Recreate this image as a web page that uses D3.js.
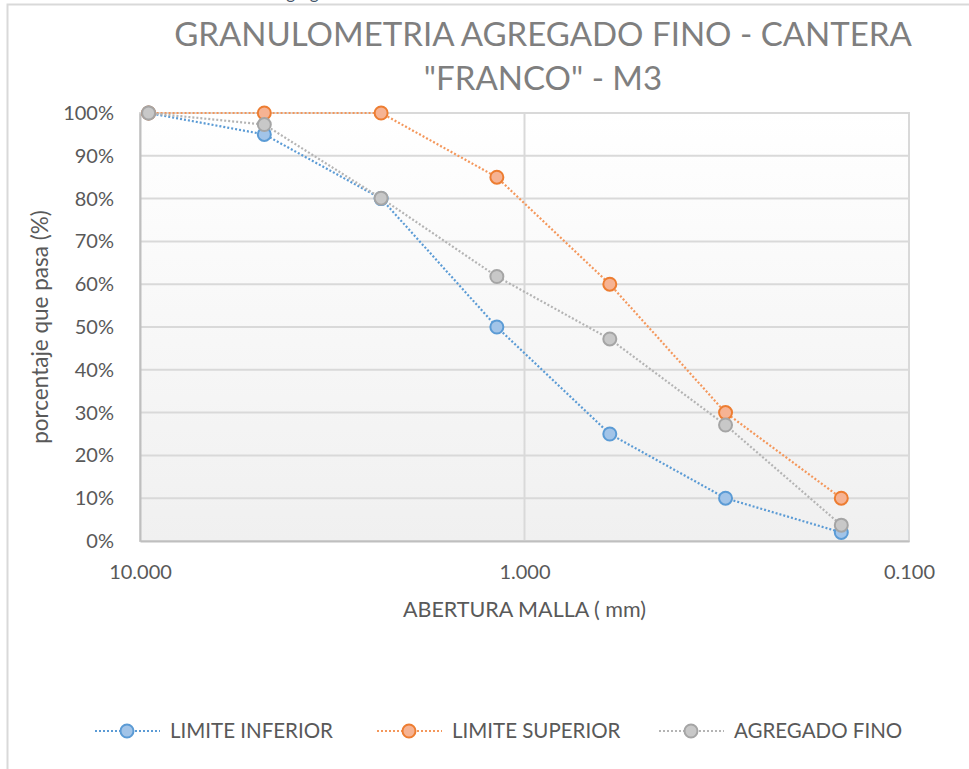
<!DOCTYPE html>
<html>
<head>
<meta charset="utf-8">
<script src="https://cdnjs.cloudflare.com/ajax/libs/d3/7.8.5/d3.min.js"></script>
<style>
  body { margin: 0; background: #fff; }
  text { font-family: Lato, "Open Sans", sans-serif; }
</style>
</head>
<body>
<div id="chart"></div>
<script>
// abertura de malla (mm) y porcentaje que pasa
var aberturas = [9.5, 4.75, 2.36, 1.18, 0.6, 0.3, 0.15];
var limiteInferior = [100, 95, 80, 50, 25, 10, 2];
var limiteSuperior = [100, 100, 100, 85, 60, 30, 10];
var agregadoFino = [100, 97.3, 80.1, 61.8, 47.2, 27.1, 3.7];
var xTicks = [10, 1, 0.1];
var yTicks = [0, 10, 20, 30, 40, 50, 60, 70, 80, 90, 100];
var nombres = ["LIMITE INFERIOR", "LIMITE SUPERIOR", "AGREGADO FINO"];

var series = [
  { nombre: nombres[0], valores: limiteInferior, linea: "#5B9BD5", borde: "#5B9BD5", relleno: "#A2C4E8" },
  { nombre: nombres[1], valores: limiteSuperior, linea: "#F4975B", borde: "#ED7D31", relleno: "#F6B393" },
  { nombre: nombres[2], valores: agregadoFino, linea: "#B4B4B4", borde: "#A5A5A5", relleno: "#C8C8C8" }
];

var width = 969,
  height = 769,
  plot = { left: 140, right: 909, top: 113, bottom: 541 };

var svg = d3.select("#chart").append("svg")
  .attr("width", width)
  .attr("height", height);

var defs = svg.append("defs");
var grad = defs.append("linearGradient")
  .attr("id", "fondo").attr("x1", 0).attr("y1", 0).attr("x2", 0).attr("y2", 1);
grad.append("stop").attr("offset", "0%").attr("stop-color", "#ffffff");
grad.append("stop").attr("offset", "100%").attr("stop-color", "#f0f0f0");

// marco del grafico
svg.append("rect")
  .attr("x", 7.5).attr("y", 4.5)
  .attr("width", 980).attr("height", 800)
  .attr("fill", "#fff")
  .attr("stroke", "#d9d9d9").attr("stroke-width", 2);

// texto cortado arriba (como en la imagen)
svg.append("text")
  .attr("x", 312).attr("y", -1)
  .attr("text-anchor", "middle")
  .attr("fill", "#44546a")
  .style("font-size", "17px")
  .text("agregado");

var x = d3.scaleLog().domain([10, 0.1]).range([plot.left, plot.right]);
var y = d3.scaleLinear().domain([0, 100]).range([plot.bottom, plot.top]);

svg.append("rect")
  .attr("x", plot.left).attr("y", plot.top)
  .attr("width", plot.right - plot.left).attr("height", plot.bottom - plot.top)
  .attr("fill", "url(#fondo)")
  .attr("stroke", "#d9d9d9").attr("stroke-width", 2);

// rejilla
svg.append("g").selectAll("line").data(yTicks)
  .join("line")
  .attr("x1", plot.left).attr("x2", plot.right)
  .attr("y1", function (d) { return y(d); }).attr("y2", function (d) { return y(d); })
  .attr("stroke", "#d9d9d9").attr("stroke-width", 2);

svg.append("g").selectAll("line").data(xTicks)
  .join("line")
  .attr("x1", function (d) { return x(d); }).attr("x2", function (d) { return x(d); })
  .attr("y1", plot.top).attr("y2", plot.bottom)
  .attr("stroke", "#d9d9d9").attr("stroke-width", 2);

// ejes
var yAxis = svg.append("g")
  .attr("transform", "translate(" + plot.left + ",0)")
  .call(d3.axisLeft(y).tickValues(yTicks).tickSize(0).tickPadding(26)
    .tickFormat(function (d) { return d + "%"; }));
yAxis.select(".domain").attr("stroke", "#bfbfbf").attr("stroke-width", 2);
yAxis.selectAll("text").attr("fill", "#595959").style("font-size", "20px")
  .attr("font-family", "Lato, 'Open Sans', sans-serif");

var xAxis = svg.append("g")
  .attr("transform", "translate(0," + plot.bottom + ")")
  .call(d3.axisBottom(x).tickValues(xTicks).tickSize(0).tickPadding(24)
    .tickFormat(d3.format(".3f")));
xAxis.select(".domain").attr("stroke", "#bfbfbf").attr("stroke-width", 2);
xAxis.selectAll("text").attr("fill", "#595959").style("font-size", "20px")
  .attr("font-family", "Lato, 'Open Sans', sans-serif");

// lineas y marcadores
var linea = d3.line()
  .x(function (d, i) { return x(aberturas[i]); })
  .y(function (d) { return y(d); });

series.forEach(function (s) {
  svg.append("path")
    .datum(s.valores)
    .attr("d", linea)
    .attr("fill", "none")
    .attr("stroke", s.linea)
    .attr("stroke-width", 2.2)
    .attr("stroke-dasharray", "2,2");
});
series.forEach(function (s) {
  svg.append("g").selectAll("circle").data(s.valores)
    .join("circle")
    .attr("cx", function (d, i) { return x(aberturas[i]); })
    .attr("cy", function (d) { return y(d); })
    .attr("r", 6.5)
    .attr("fill", s.relleno)
    .attr("stroke", s.borde)
    .attr("stroke-width", 2);
});

// titulos
var titulo = svg.append("text")
  .attr("text-anchor", "middle")
  .attr("fill", "#7f7f7f")
  .style("font-size", "33px");
titulo.append("tspan").attr("x", 543).attr("y", 46).text("GRANULOMETRIA AGREGADO FINO - CANTERA");
titulo.append("tspan").attr("x", 543).attr("y", 90).text("\"FRANCO\" - M3");

svg.append("text")
  .attr("x", (plot.left + plot.right) / 2).attr("y", 617)
  .attr("text-anchor", "middle")
  .attr("fill", "#595959")
  .style("font-size", "21.5px")
  .text("ABERTURA MALLA ( mm)");

svg.append("text")
  .attr("transform", "translate(48," + ((plot.top + plot.bottom) / 2) + ") rotate(-90)")
  .attr("text-anchor", "middle")
  .attr("fill", "#595959")
  .style("font-size", "22.5px")
  .text("porcentaje que pasa (%)");

// leyenda
var leyenda = svg.append("g").selectAll("g").data(series)
  .join("g")
  .attr("transform", function (d, i) { return "translate(" + (95 + i * 282) + ",731)"; });
leyenda.append("line")
  .attr("x1", 0).attr("x2", 65)
  .attr("stroke", function (d) { return d.linea; })
  .attr("stroke-width", 2.2)
  .attr("stroke-dasharray", "2,2");
leyenda.append("circle")
  .attr("cx", 32).attr("r", 6.5)
  .attr("fill", function (d) { return d.relleno; })
  .attr("stroke", function (d) { return d.borde; })
  .attr("stroke-width", 2);
leyenda.append("text")
  .attr("x", 75).attr("y", 7)
  .attr("fill", "#595959")
  .style("font-size", "20.5px")
  .text(function (d) { return d.nombre; });
</script>
</body>
</html>
